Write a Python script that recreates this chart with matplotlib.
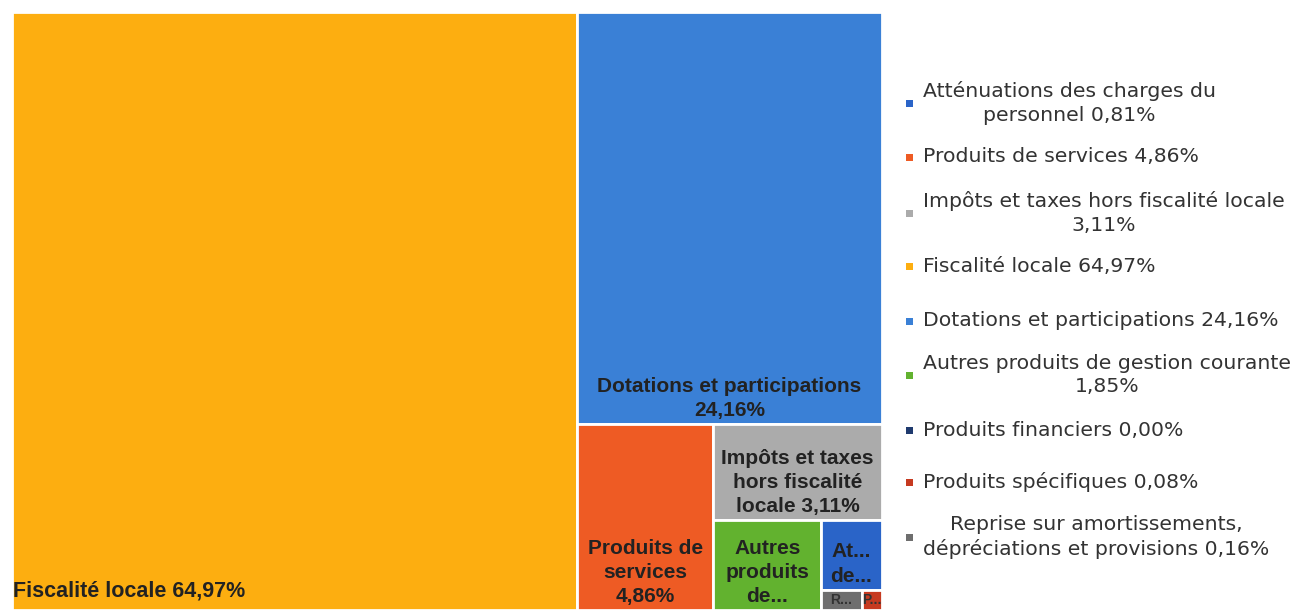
import matplotlib.pyplot as plt
from matplotlib.patches import Rectangle

plt.rcParams['font.family'] = ['Liberation Sans', 'DejaVu Sans']

# Données (% des recettes de fonctionnement)
categories = ['Fiscalité locale', 'Dotations et participations', 'Produits de services',
              'Impôts et taxes hors fiscalité locale', 'Autres produits de gestion courante',
              'Atténuations des charges du personnel',
              'Reprise sur amortissements, dépréciations et provisions',
              'Produits spécifiques', 'Produits financiers']
values = [64.97, 24.16, 4.86, 3.11, 1.85, 0.81, 0.16, 0.08, 0.00]
colors = ['#FDAE10', '#3A80D6', '#EE5B24', '#ABABAB', '#62B22F', '#2A64C8',
          '#6E6E6E', '#C63A20', '#1F3A6E']
# étiquettes affichées dans les cases (tronquées comme dans l'original)
box_labels = ['Fiscalité locale 64,97%', 'Dotations et participations\n24,16%',
              'Produits de\nservices\n4,86%', 'Impôts et taxes\nhors fiscalité\nlocale 3,11%',
              'Autres\nproduits\nde...', 'At...\nde...', 'R...', 'P...', '']
legend_order = [5, 2, 3, 0, 1, 4, 8, 7, 6]
legend_labels = ['Atténuations des charges du\npersonnel 0,81%', 'Produits de services 4,86%',
                 'Impôts et taxes hors fiscalité locale\n3,11%', 'Fiscalité locale 64,97%',
                 'Dotations et participations 24,16%', 'Autres produits de gestion courante\n1,85%',
                 'Produits financiers 0,00%', 'Produits spécifiques 0,08%',
                 'Reprise sur amortissements,\ndépréciations et provisions 0,16%']


def slice_layout(vals, x, y, w, h):
    # découpe alternée selon le côté le plus long
    rects = []
    total = sum(vals)
    for v in vals:
        if total <= 0 or w <= 0 or h <= 0:
            rects.append((x, y, 0, 0))
            continue
        if w >= h:
            dw = w * v / total
            rects.append((x, y, dw, h))
            x += dw
            w -= dw
        else:
            dh = h * v / total
            rects.append((x, y, w, dh))
            y += dh
            h -= dh
        total -= v
    return rects


W, H = 870, 598
fig = plt.figure(figsize=(12.94, 6.12), dpi=100)
ax = fig.add_axes([12 / 1294, 2 / 612, W / 1294, H / 612])
ax.set_xlim(0, W)
ax.set_ylim(H, 0)
ax.axis('off')

rects = slice_layout(values, 0, 0, W, H)
for i, (x, y, w, h) in enumerate(rects):
    if w <= 0 or h <= 0:
        continue
    ax.add_patch(Rectangle((x, y), w, h, facecolor=colors[i], edgecolor='white', lw=2))
    lab = box_labels[i]
    if not lab:
        continue
    if i == 0:
        ax.text(x + 1, y + h - 8, lab, ha='left', va='bottom', fontsize=15.5,
                fontweight='bold', color='#222222')
    elif i >= 6:
        ax.text(x + w / 2, y + h / 2, lab, ha='center', va='center', fontsize=10,
                fontweight='bold', color='#333333', clip_on=True)
    else:
        ax.text(x + w / 2, y + h - 4, lab, ha='center', va='bottom', fontsize=15,
                fontweight='bold', color='#222222', linespacing=1.35, clip_on=True)

# légende manuelle
leg_y = [103, 157, 213, 266, 321, 375, 430, 482, 537]
for k, idx in enumerate(legend_order):
    yy = leg_y[k]
    fig.patches.append(Rectangle((906 / 1294, 1 - (yy + 4) / 612), 7 / 1294, 7 / 612,
                                 transform=fig.transFigure, facecolor=colors[idx],
                                 edgecolor='none'))
    fig.text(923 / 1294, 1 - yy / 612, legend_labels[k], ha='left', va='center',
             fontsize=14.7, family=['DejaVu Sans'], color='#333333',
             multialignment='center', linespacing=1.3)

fig.savefig('out.png', dpi=100)
